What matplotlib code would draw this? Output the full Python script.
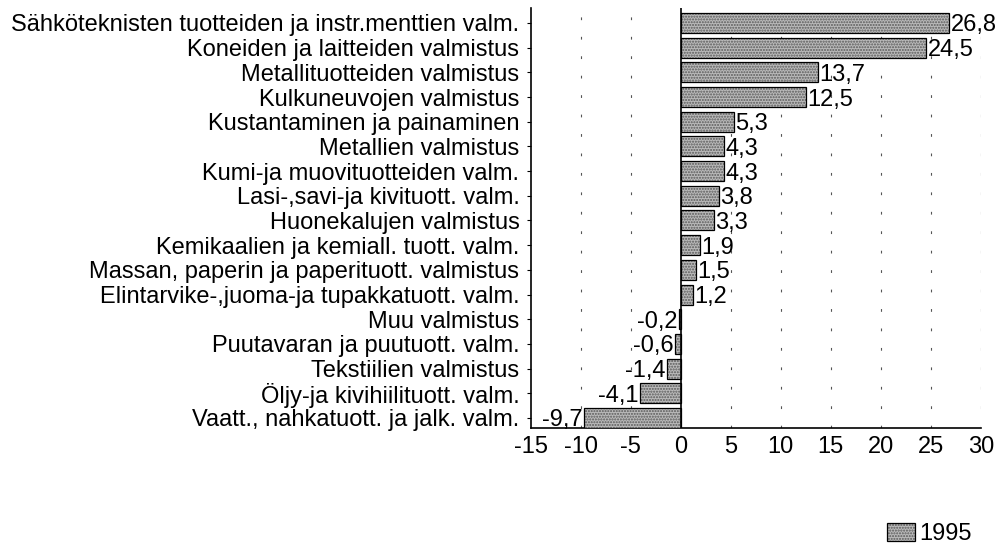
import matplotlib.pyplot as plt
import numpy as np

# Toimialat ja muutos (%), 1995
toimialat = [
    "Sähköteknisten tuotteiden ja instr.menttien valm.",
    "Koneiden ja laitteiden valmistus",
    "Metallituotteiden valmistus",
    "Kulkuneuvojen valmistus",
    "Kustantaminen ja painaminen",
    "Metallien valmistus",
    "Kumi-ja muovituotteiden valm.",
    "Lasi-,savi-ja kivituott. valm.",
    "Huonekalujen valmistus",
    "Kemikaalien ja kemiall. tuott. valm.",
    "Massan, paperin ja paperituott. valmistus",
    "Elintarvike-,juoma-ja tupakkatuott. valm.",
    "Muu valmistus",
    "Puutavaran ja puutuott. valm.",
    "Tekstiilien valmistus",
    "Öljy-ja kivihiilituott. valm.",
    "Vaatt., nahkatuott. ja jalk. valm.",
]
arvot_1995 = [26.8, 24.5, 13.7, 12.5, 5.3, 4.3, 4.3, 3.8, 3.3, 1.9, 1.5, 1.2,
              -0.2, -0.6, -1.4, -4.1, -9.7]
x_ticks = [-15, -10, -5, 0, 5, 10, 15, 20, 25, 30]

plt.rcParams['font.family'] = ['Liberation Sans', 'DejaVu Sans']
fs = 17

fig = plt.figure(figsize=(10.03, 5.45), dpi=100)
ax = fig.add_axes([0.529, 0.215, 0.449, 0.770])

y = np.arange(len(toimialat))
bars = ax.barh(y, arvot_1995, height=0.81, color='#bababa', edgecolor='black',
               linewidth=0.9, hatch='......', label='1995', zorder=3)
for b in bars:
    b._hatch_color = (0.35, 0.35, 0.35, 1.0)

# arvot palkkien päähän
for yi, v in zip(y, arvot_1995):
    txt = f"{v:.1f}".replace('.', ',')
    if v >= 0:
        ax.text(v + 0.15, yi + 0.1, txt, ha='left', va='center', fontsize=fs, zorder=4)
    else:
        ax.text(v - 0.15, yi + 0.1, txt, ha='right', va='center', fontsize=fs, zorder=4)

ax.set_xlim(-15, 30)
ax.set_ylim(len(toimialat) - 0.6, -0.6)
ax.set_xticks(x_ticks)
ax.set_xticklabels([str(t) for t in x_ticks], fontsize=fs)
ax.set_yticks(y)
ax.set_yticklabels(toimialat, fontsize=fs)
ax.tick_params(axis='y', length=3, pad=5)
ax.tick_params(axis='x', length=0, pad=6)

for t in x_ticks:
    if t in (-15, 0):
        continue
    ax.axvline(t, color='#555555', linestyle=(0, (2.5, 15)), linewidth=0.8, zorder=1)
ax.axvline(0, color='black', linewidth=1.2, zorder=4)

ax.spines['top'].set_visible(False)
ax.spines['right'].set_visible(False)
ax.spines['left'].set_linewidth(1.2)
ax.spines['bottom'].set_linewidth(1.2)

leg = fig.legend(handles=[bars], labels=['1995'], loc='lower right',
                 bbox_to_anchor=(0.985, -0.03), frameon=False, fontsize=fs,
                 handlelength=1.2, handleheight=0.8, handletextpad=0.15,
                 borderpad=0.2)

fig.savefig('out.png', dpi=100)
